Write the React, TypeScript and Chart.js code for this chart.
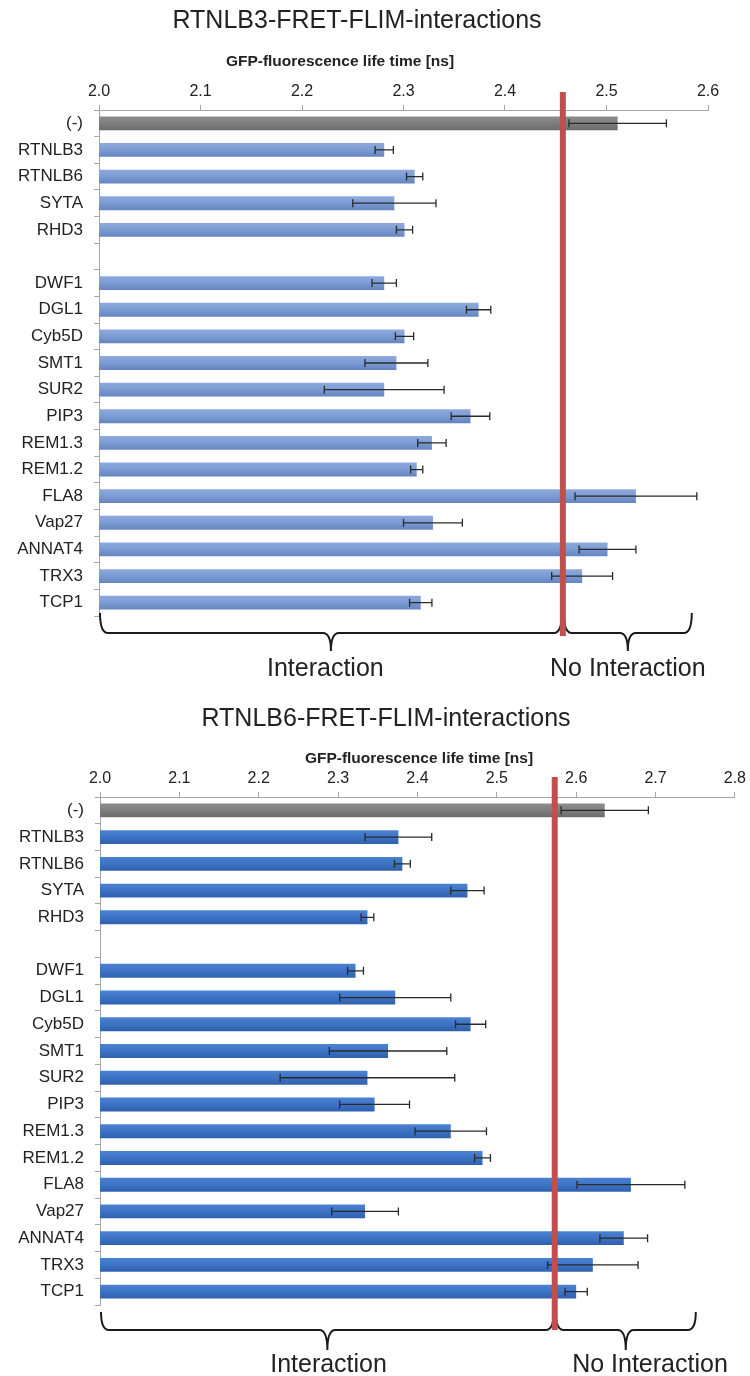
import React, { useEffect, useRef } from "react";
import { Chart, registerables } from "chart.js";

Chart.register(...registerables);

const FONT = '"Liberation Sans", Arial, Helvetica, sans-serif';

// ---------- data ----------
const categories = [
  "(-)", "RTNLB3", "RTNLB6", "SYTA", "RHD3", "",
  "DWF1", "DGL1", "Cyb5D", "SMT1", "SUR2", "PIP3",
  "REM1.3", "REM1.2", "FLA8", "Vap27", "ANNAT4", "TRX3", "TCP1",
];

const rtnlb3Lifetimes = [
  2.511, 2.281, 2.311, 2.291, 2.301, null,
  2.281, 2.374, 2.301, 2.293, 2.281, 2.366,
  2.328, 2.313, 2.529, 2.329, 2.501, 2.476, 2.317,
];
const rtnlb3Errors = [
  0.048, 0.009, 0.008, 0.041, 0.008, null,
  0.012, 0.012, 0.009, 0.031, 0.059, 0.019,
  0.014, 0.006, 0.06, 0.029, 0.028, 0.03, 0.011,
];
const rtnlb3Threshold = 2.457;
const rtnlb3Ticks = [2.0, 2.1, 2.2, 2.3, 2.4, 2.5, 2.6];
const rtnlb3Brackets = [[2.0, 2.457], [2.457, 2.585]];
const rtnlb3LabelAt = [2.223, 2.521];

const rtnlb6Lifetimes = [
  2.636, 2.376, 2.381, 2.463, 2.337, null,
  2.322, 2.372, 2.467, 2.363, 2.337, 2.346,
  2.442, 2.482, 2.669, 2.334, 2.66, 2.621, 2.6,
];
const rtnlb6Errors = [
  0.055, 0.042, 0.01, 0.021, 0.008, null,
  0.01, 0.07, 0.019, 0.074, 0.11, 0.044,
  0.045, 0.01, 0.068, 0.042, 0.03, 0.057, 0.014,
];
const rtnlb6Threshold = 2.573;
const rtnlb6Ticks = [2.0, 2.1, 2.2, 2.3, 2.4, 2.5, 2.6, 2.7, 2.8];
const rtnlb6Brackets = [[2.0, 2.573], [2.573, 2.752]];
const rtnlb6LabelAt = [2.288, 2.693];

const bracketLabels = ["Interaction", "No Interaction"];
const axisTitle = "GFP-fluorescence life time [ns]";

type Cfg = {
  title: string;
  titleX: number;
  titleBase: number;
  axisTitleX: number;
  axisTitleBase: number;
  values: (number | null)[];
  errors: (number | null)[];
  threshold: number;
  ticks: number[];
  brackets: number[][];
  labelAt: number[];
  barShades: string[];
  yAxisWidth: number;
  rightPad: number;
  xAxisHeight: number;
  bottomPad: number;
  lineTop: number;
  lineBottom: number;
  braceTop: number;
  braceMid: number;
  braceTip: number;
  labelBase: number;
};

const greyShades = ["#8c8c8c", "#7f7f7f", "#6a6a6a"];
const BAR_PCT = 0.52;

function makePlugin(cfg: Cfg) {
  return {
    id: "fretDecor",
    afterDatasetsDraw(chart: any) {
      const ctx = chart.ctx;
      const x = chart.scales.x;
      const meta = chart.getDatasetMeta(0);
      ctx.save();
      ctx.strokeStyle = "#2a2a2a";
      ctx.lineWidth = 1.3;
      cfg.values.forEach((v, i) => {
        const e = cfg.errors[i];
        if (v == null || e == null) return;
        const y = meta.data[i].y;
        const xl = x.getPixelForValue(v - e);
        const xr = x.getPixelForValue(v + e);
        ctx.beginPath();
        ctx.moveTo(xl, y);
        ctx.lineTo(xr, y);
        ctx.moveTo(xl, y - 4);
        ctx.lineTo(xl, y + 4);
        ctx.moveTo(xr, y - 4);
        ctx.lineTo(xr, y + 4);
        ctx.stroke();
      });
      ctx.restore();
    },
    afterDraw(chart: any) {
      const ctx = chart.ctx;
      const x = chart.scales.x;
      const area = chart.chartArea;
      ctx.save();
      // titles
      ctx.fillStyle = "#222222";
      ctx.textAlign = "center";
      ctx.textBaseline = "alphabetic";
      ctx.font = `25px ${FONT}`;
      ctx.fillText(cfg.title, cfg.titleX, cfg.titleBase);
      ctx.font = `bold 15.5px ${FONT}`;
      ctx.fillText(axisTitle, cfg.axisTitleX, cfg.axisTitleBase);

      // braces
      const yT = area.bottom + cfg.braceTop;
      const yH = area.bottom + cfg.braceMid;
      const yN = area.bottom + cfg.braceTip;
      ctx.strokeStyle = "#1a1a1a";
      ctx.lineWidth = 2;
      cfg.brackets.forEach(([a, b]) => {
        const x1 = x.getPixelForValue(a) + 1;
        const x2 = x.getPixelForValue(b) - 1;
        const xm = (x1 + x2) / 2;
        const r = 8;
        ctx.beginPath();
        ctx.moveTo(x1, yT);
        ctx.quadraticCurveTo(x1, yH, x1 + r, yH);
        ctx.lineTo(xm - r, yH);
        ctx.quadraticCurveTo(xm, yH, xm, yN);
        ctx.quadraticCurveTo(xm, yH, xm + r, yH);
        ctx.lineTo(x2 - r, yH);
        ctx.quadraticCurveTo(x2, yH, x2, yT);
        ctx.stroke();
      });
      ctx.fillStyle = "#222222";
      ctx.font = `25px ${FONT}`;
      bracketLabels.forEach((t, i) => {
        ctx.fillText(t, x.getPixelForValue(cfg.labelAt[i]), area.bottom + cfg.labelBase);
      });

      // threshold line
      const tx = x.getPixelForValue(cfg.threshold);
      ctx.strokeStyle = "#c0504d";
      ctx.lineWidth = 6;
      ctx.beginPath();
      ctx.moveTo(tx, area.top + cfg.lineTop);
      ctx.lineTo(tx, area.bottom + cfg.lineBottom);
      ctx.stroke();
      ctx.restore();
    },
  };
}

function FretChart({ cfg, width, height }: { cfg: Cfg; width: number; height: number }) {
  const ref = useRef<HTMLCanvasElement | null>(null);
  useEffect(() => {
    if (!ref.current) return;
    const shade = (c: any) => {
      const chart = c.chart;
      const ys = chart.scales && chart.scales.y;
      const shades = c.dataIndex === 0 ? greyShades : cfg.barShades;
      if (!ys || !chart.ctx) return shades[1];
      const yc = ys.getPixelForValue(c.dataIndex);
      const step = Math.abs(ys.getPixelForValue(1) - ys.getPixelForValue(0));
      const h = (step * BAR_PCT) / 2;
      if (!isFinite(yc) || !isFinite(h) || h <= 0) return shades[1];
      const g = chart.ctx.createLinearGradient(0, yc - h, 0, yc + h);
      g.addColorStop(0, shades[0]);
      g.addColorStop(0.5, shades[1]);
      g.addColorStop(1, shades[2]);
      return g;
    };
    const chart = new Chart(ref.current, {
      type: "bar",
      data: {
        labels: categories,
        datasets: [
          {
            data: cfg.values as any,
            backgroundColor: shade,
            borderWidth: 0,
            barPercentage: BAR_PCT,
            categoryPercentage: 1.0,
          },
        ],
      },
      options: {
        indexAxis: "y",
        responsive: false,
        animation: false,
        events: [],
        layout: { padding: { left: 0, right: cfg.rightPad, top: 0, bottom: cfg.bottomPad } },
        plugins: {
          legend: { display: false },
          tooltip: { enabled: false },
          title: { display: false },
        },
        scales: {
          x: {
            position: "top",
            min: cfg.ticks[0],
            max: cfg.ticks[cfg.ticks.length - 1],
            afterBuildTicks: (s: any) => {
              s.ticks = cfg.ticks.map((v) => ({ value: v }));
            },
            afterFit: (s: any) => {
              s.height = cfg.xAxisHeight;
            },
            ticks: {
              callback: (v: any) => Number(v).toFixed(1),
              font: { family: FONT, size: 16 },
              color: "#222222",
              padding: 4,
              maxRotation: 0,
              autoSkip: false,
            },
            grid: { drawOnChartArea: false, tickLength: 5, color: "#a6a6a6" },
            border: { color: "#a6a6a6", width: 1 },
          },
          y: {
            afterFit: (s: any) => {
              s.width = cfg.yAxisWidth;
            },
            ticks: {
              font: { family: FONT, size: 17 },
              color: "#222222",
              padding: 11,
              autoSkip: false,
            },
            grid: { drawOnChartArea: false, tickLength: 5, color: "#a6a6a6", offset: true },
            border: { color: "#a6a6a6", width: 1 },
          },
        },
      } as any,
      plugins: [makePlugin(cfg)],
    });
    return () => chart.destroy();
  }, [cfg]);
  return (
    <canvas
      ref={ref}
      width={width}
      height={height}
      style={{ display: "block", width: `${width}px`, height: `${height}px` }}
    />
  );
}

const cfg1: Cfg = {
  title: "RTNLB3-FRET-FLIM-interactions",
  titleX: 357,
  titleBase: 28,
  axisTitleX: 340,
  axisTitleBase: 66,
  values: rtnlb3Lifetimes,
  errors: rtnlb3Errors,
  threshold: rtnlb3Threshold,
  ticks: rtnlb3Ticks,
  brackets: rtnlb3Brackets,
  labelAt: rtnlb3LabelAt,
  barShades: ["#8eaadd", "#7b9bd3", "#6584c0"],
  yAxisWidth: 99,
  rightPad: 42,
  xAxisHeight: 110,
  bottomPad: 72,
  lineTop: -18,
  lineBottom: 20,
  braceTop: -3,
  braceMid: 17,
  braceTip: 35,
  labelBase: 60,
};

const cfg2: Cfg = {
  title: "RTNLB6-FRET-FLIM-interactions",
  titleX: 386,
  titleBase: 38,
  axisTitleX: 419,
  axisTitleBase: 75,
  values: rtnlb6Lifetimes,
  errors: rtnlb6Errors,
  threshold: rtnlb6Threshold,
  ticks: rtnlb6Ticks,
  brackets: rtnlb6Brackets,
  labelAt: rtnlb6LabelAt,
  barShades: ["#4b82d2", "#3d72c4", "#2f60ad"],
  yAxisWidth: 100,
  rightPad: 13,
  xAxisHeight: 109,
  bottomPad: 71,
  lineTop: -20,
  lineBottom: 25,
  braceTop: 7,
  braceMid: 25,
  braceTip: 45,
  labelBase: 67,
};

export default function App() {
  return (
    <div style={{ position: "absolute", left: 0, top: 0, width: 750, height: 1376, background: "#ffffff" }}>
      <FretChart cfg={cfg1} width={750} height={688} />
      <FretChart cfg={cfg2} width={750} height={688} />
    </div>
  );
}
